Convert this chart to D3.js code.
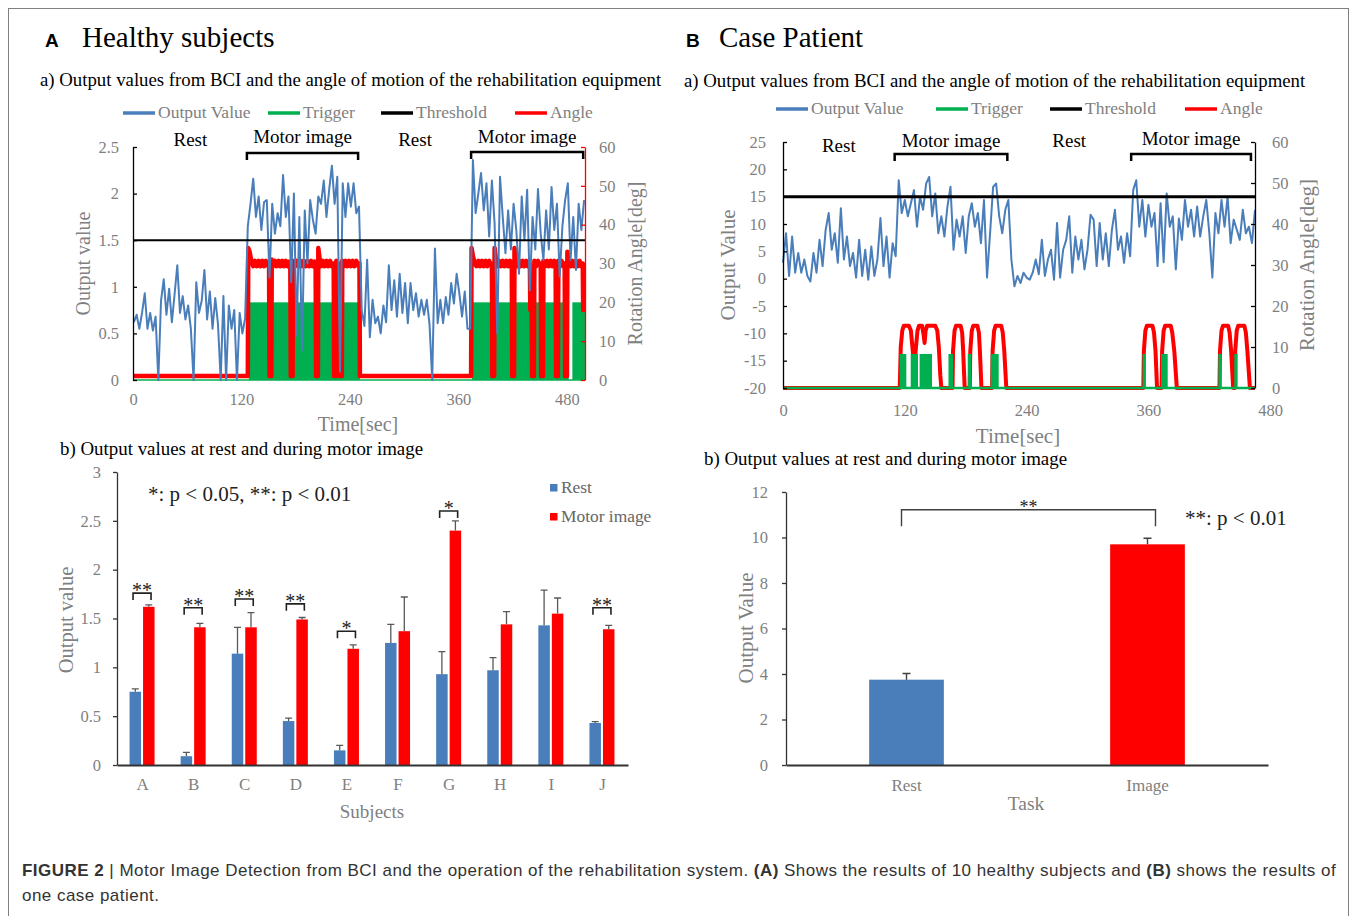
<!DOCTYPE html>
<html>
<head>
<meta charset="utf-8">
<script src="https://cdn.jsdelivr.net/npm/d3@7"></script>
<style>
  body { margin: 0; background: #fff; }
</style>
</head>
<body>
<svg id="fig" width="1357" height="916"></svg>
<script>
// ---- A a) healthy subject trace (sampled every 3 s, first sample at t = 1 s)
const startA = 1, stepA = 3;
const outputA = [
  // rest
  0.62,0.70,0.55,0.72,0.93,0.55,0.72,0.53,0.68,0.00,0.85,1.08,0.70,0.98,0.62,0.92,1.23,0.72,0.90,0.65,0.80,
  0.55,0.00,1.05,0.72,0.85,1.18,0.65,0.95,0.55,0.88,0.60,0.00,0.90,0.00,0.80,0.55,0.75,0.00,0.72,0.50,0.66,
  // motor image
  1.65,1.89,2.16,1.75,1.97,1.61,1.91,1.93,1.10,1.89,1.57,1.79,1.65,2.20,1.75,1.97,1.05,2.00,0.47,1.75,0.32,
  1.82,1.25,1.93,1.72,1.57,1.97,1.89,2.14,1.75,2.04,2.30,1.89,2.18,0.09,2.11,1.75,2.11,1.86,2.11,1.79,1.86,
  // rest
  0.75,0.58,1.29,0.46,0.86,0.61,0.68,0.50,0.80,0.62,1.23,0.75,1.07,0.68,1.14,0.72,1.04,0.61,1.04,0.75,
  0.93,0.68,0.86,0.70,0.86,0.60,0.00,1.41,0.61,0.86,0.61,0.89,0.70,1.04,0.82,1.14,0.93,0.68,0.95,0.55,
  // motor image
  0.55,2.36,1.79,2.00,2.22,1.82,2.11,1.54,2.14,1.68,0.50,2.18,1.75,1.36,1.82,1.40,1.89,1.61,1.14,1.97,1.50,
  2.04,0.96,1.75,1.40,2.05,1.57,1.29,1.82,1.40,2.07,1.61,1.89,1.11,1.65,1.93,2.11,1.29,1.75,1.18,1.89,1.61,1.93
];
// [time s, angle deg]
const angleA = [
  [0,1],[127,1],[127.5,34],[129,33],[131,30.5],[133,29.3],[135,30.7],[137,29.3],[139,30.7],[141,29.3],[143,30.7],
  [145,29.3],[147,30.7],[149,29.5],[150.5,30],[151,1],[153,1],[153.5,31],[155,29.3],[157,30.7],[159,29.3],[161,30.7],
  [163,29.3],[165,30.7],[167,29.3],[169,30.7],[171,29.3],[173,30.5],[174,30],[174.5,1],[176.5,1],[177,30.7],[179,29.3],
  [181,30.7],[183,29.3],[185,30.7],[187,29.3],[189,30.7],[191,29.3],[193,30.7],[195,29.3],[197,30.7],[199,29.3],
  [201,30.5],[202,30],[202.5,1],[204.5,1],[205,34],[206.5,31],[208,29.3],[210,30.7],[212,29.3],[214,30.7],[216,29.3],
  [218,30.7],[220,29.3],[222,30],[222.5,1],[224.5,1],[225,30.7],[227,29.3],[228.5,30],[229,1],[231,1],[231.5,30.7],
  [233,29.3],[235,30.7],[237,29.3],[239,30.7],[241,29.3],[243,30.7],[245,29.3],[247,30.7],[249,29.5],[250.5,30],
  [251,1],[374,1],[374.5,34],[376,32],[378,30],[380,29.3],[382,30.7],[384,29.3],[386,30.7],[388,29.3],[390,30.7],
  [392,29.3],[394,30.7],[396,29.5],[397,30],[397.5,1],[399.5,1],[400,34],[401.5,31],[403,29.3],[405,30.7],[407,29.3],
  [409,30.7],[411,29.3],[413,30.7],[415,29.3],[417,30.7],[419,30],[419.5,1],[421.5,1],[422,34],[423.5,31],[425,29.3],
  [427,30.7],[429,29.3],[431,30.7],[433,29.3],[435,30.7],[437,29.3],[439,30],[439.5,18],[441,18],[441.5,1],[443.5,1],
  [444,30.7],[446,29.3],[448,30.7],[450,29.5],[451,30],[451.5,1],[453.5,1],[454,30.7],[456,29.3],[458,30.7],[460,29.3],
  [462,30.7],[464,29.3],[466,30.7],[467.5,30],[468,1],[470,1],[470.5,30.7],[472,29.3],[474,30.7],[476,29.3],
  [477.5,30],[478,1],[480,1],[480.5,33],[482,31],[484,29.3],[486,30.7],[488,29.3],[490,30.7],[492,29.3],[494,30.7],
  [496,29.3],[497.5,30],[498,18],[500,18]
];
const triggerA = [[128, 251], [375, 482], [486, 500]]; // trigger on (20 deg)
const triggerLevelA = 20;
const thresholdA = 1.5;
const periodsA = [
  { name: "Rest", from: 0, to: 127 },
  { name: "Motor image", from: 126, to: 249 },
  { name: "Rest", from: 250, to: 374 },
  { name: "Motor image", from: 374, to: 498 }
];

// ---- B a) case patient trace (sampled every 3 s from t = 0)
const startB = 0, stepB = 3;
const outputB = [
  // rest
  2.9,8.3,0.5,7.7,1.1,4.7,1.1,3.5,0.5,-0.5,4.7,1.1,7.1,2.3,8.9,12.0,5.3,8.3,2.9,12.9,
  3.5,7.7,2.3,4.7,0.2,7.1,0.5,5.3,-0.2,5.9,0.5,3.5,11.1,2.3,7.7,0.2,6.5,4.1,
  // motor image
  18.0,12.0,14.4,11.4,13.8,16.2,9.5,15.0,12.6,17.4,18.6,11.4,15.6,8.3,11.4,7.7,13.2,16.8,5.3,
  10.8,7.7,11.4,4.7,11.4,13.8,9.5,12.0,6.5,14.4,0.2,8.3,16.8,17.4,11.4,8.3,12.6,14.4,
  // rest
  3.5,-1.4,0.5,-0.8,1.1,0.2,-0.2,1.1,3.5,0.8,7.1,0.5,3.5,5.3,-0.2,10.2,0.2,5.3,7.1,11.4,
  1.1,7.7,3.5,7.1,1.7,5.3,11.7,10.8,2.3,10.2,3.5,8.3,2.3,8.9,12.6,5.3,7.7,2.9,8.3,4.1,
  // motor image
  16.2,18.0,9.5,14.4,7.7,13.5,9.5,12.0,2.3,13.8,3.0,15.6,9.5,11.4,1.7,11.0,7.1,14.4,9.5,12.6,7.7,
  13.2,7.7,11.4,14.4,8.3,0.2,12.0,8.3,14.4,9.5,15.0,6.5,10.8,9.0,7.1,12.6,8.3,9.5,6.5,12.6
];
const angleB = [
  [0,0],[115,0],[116,10],[117.5,14],[119,15.2],[124,15.2],[126,14],[127.5,10],[128.5,7],[130,7],[131,10],
  [132.5,14],[134,15.2],[137,15.2],[138.5,13],[139.5,11],[140.5,14],[142,15.2],[150,15.2],[152,14],[153.5,10],
  [155,3],[156,0],[167,0],[167.5,9],[169,14],[170.5,15.2],[175,15.2],[176.5,13.5],[177.5,9],[179,0],
  [184,0],[184.5,9],[186,14],[187.5,15.2],[191.5,15.2],[193,13.5],[194,9],[195.5,0],
  [206,0],[206.5,9],[208,14],[209.5,15.2],[215,15.2],[216.5,13.5],[218,9],[220,0],
  [355,0],[355.5,9],[357,14],[358.5,15.2],[364,15.2],[365.5,13.5],[367,9],[368.5,0],
  [373,0],[373.5,9],[375,14],[376.5,15.2],[382,15.2],[383.5,13.5],[385.5,9],[388,0],
  [430,0],[430.5,9],[432,14],[433.5,15.2],[438.5,15.2],[440,13.5],[441.5,9],[443.5,0],
  [445,0],[445.5,9],[447,14],[448.5,15.2],[454.5,15.2],[456,13.5],[457.5,9],[460,0],[465,0]
];
const triggerB = [[115,121.5],[125.8,133],[134.6,146.8],[163,167.5],[182,185.5],[204.6,212.5],
                  [354.3,357.5],[372.4,379],[428.9,432],[444.6,447.9]];
const triggerLevelB = 8.3;
const thresholdB = 15;
const periodsB = [
  { name: "Rest", from: 0, to: 110 },
  { name: "Motor image", from: 110, to: 221 },
  { name: "Rest", from: 221, to: 343 },
  { name: "Motor image", from: 343, to: 461 }
];

// ---- A b) output values per subject
const subjects = ["A","B","C","D","E","F","G","H","I","J"];
const restMean  = [0.75,0.09,1.14,0.45,0.15,1.25,0.93,0.97,1.43,0.43];
const restErr   = [0.03,0.04,0.27,0.03,0.05,0.19,0.23,0.13,0.36,0.015];
const motorMean = [1.62,1.41,1.41,1.49,1.19,1.37,2.40,1.44,1.55,1.39];
const motorErr  = [0.02,0.04,0.15,0.02,0.04,0.35,0.10,0.13,0.16,0.04];
const signifA = [
  { s: "A", mark: "**", level: 1.76 }, { s: "B", mark: "**", level: 1.61 },
  { s: "C", mark: "**", level: 1.70 }, { s: "D", mark: "**", level: 1.65 },
  { s: "E", mark: "*",  level: 1.37 }, { s: "G", mark: "*",  level: 2.60 },
  { s: "J", mark: "**", level: 1.61 }
];

// ---- B b) output values per task
const tasks = ["Rest", "Image"];
const taskMean = [3.75, 9.70];
const taskErr  = [0.27, 0.27];
const signifB = { mark: "**", level: 11.22, legEnd: 10.5 };

const svg = d3.select("#fig");
const SERIF = "'Liberation Serif','Times New Roman',serif";
const SANS = "'Liberation Sans',Arial,sans-serif";
const GRAY = "#808080";
const BLUE = "#4a7ebb", GREEN = "#00b050", RED = "#ff0000";

function label(x, y, s, o = {}) {
  return svg.append("text")
    .attr("x", x).attr("y", y)
    .attr("font-family", o.family || SERIF)
    .attr("font-size", o.size || 16)
    .attr("font-weight", o.weight || null)
    .attr("fill", o.fill || "#000")
    .attr("text-anchor", o.anchor || "start")
    .attr("transform", o.rotate ? `rotate(${o.rotate},${x},${y})` : null)
    .text(s);
}

function styleAxis(g, stroke, size) {
  g.attr("font-family", SERIF).attr("font-size", size || 16.5);
  g.select(".domain").attr("stroke", stroke).attr("stroke-width", 1.3);
  g.selectAll(".tick line").attr("stroke", stroke).attr("stroke-width", 1.3);
  g.selectAll(".tick text").attr("fill", GRAY);
}

// frame round the whole figure
svg.append("rect").attr("x", 8.5).attr("y", 8.5).attr("width", 1340).attr("height", 1000)
  .attr("fill", "none").attr("stroke", "#808080").attr("stroke-width", 1);

function drawTrace(p) {
  const x = d3.scaleLinear().domain(p.xDomain).range(p.xRange);
  const y = d3.scaleLinear().domain(p.yDomain).range(p.yRange);
  const yr = d3.scaleLinear().domain([0, 60]).range(p.yRange);
  const g = svg.append("g");

  const trig = () => {
    g.append("g").selectAll("rect").data(p.trigger).join("rect")
      .attr("x", d => x(d[0])).attr("width", d => x(d[1]) - x(d[0]))
      .attr("y", yr(p.triggerLevel)).attr("height", yr(0) - yr(p.triggerLevel))
      .attr("fill", GREEN);
  };
  if (!p.triggerOnTop) trig();

  g.append("path").datum(p.angle)
    .attr("d", d3.line().x(d => x(d[0])).y(d => yr(d[1])))
    .attr("fill", "none").attr("stroke", RED).attr("stroke-width", p.angleWidth)
    .attr("stroke-linejoin", "round");

  if (p.triggerOnTop) trig();
  g.append("line")
    .attr("x1", p.xRange[0]).attr("x2", p.xRange[1])
    .attr("y1", yr(0)).attr("y2", yr(0))
    .attr("stroke", GREEN).attr("stroke-width", p.baseWidth);

  g.append("path").datum(p.output)
    .attr("d", d3.line().x((d, i) => x(p.start + i * p.step)).y(d => y(d)))
    .attr("fill", "none").attr("stroke", BLUE).attr("stroke-width", 2)
    .attr("stroke-linejoin", "round");

  g.append("line")
    .attr("x1", p.xRange[0]).attr("x2", p.xRange[1])
    .attr("y1", y(p.threshold)).attr("y2", y(p.threshold))
    .attr("stroke", "#000").attr("stroke-width", p.thresholdWidth);

  // axes
  const left = g.append("g").attr("transform", `translate(${p.xRange[0]},0)`)
    .call(d3.axisLeft(y).tickValues(p.yTicks).tickFormat(d => String(d))
      .tickSizeInner(-4).tickSizeOuter(0).tickPadding(p.tickPad));
  styleAxis(left, "#000");
  const right = g.append("g").attr("transform", `translate(${p.xRange[1]},0)`)
    .call(d3.axisRight(yr).tickValues([0, 10, 20, 30, 40, 50, 60])
      .tickSizeInner(-4).tickSizeOuter(0).tickPadding(p.tickPad));
  styleAxis(right, p.rightAxisColor);
  const bottom = g.append("g").attr("transform", `translate(0,${p.yRange[0]})`)
    .call(d3.axisBottom(x).tickValues([0, 120, 240, 360, 480]).tickSize(0).tickPadding(p.xPad));
  styleAxis(bottom, "#000");
  bottom.select(".domain").remove();

  // rest / motor image periods
  p.periods.forEach((d, i) => {
    label(x((d.from + d.to) / 2), p.periodY[i], d.name, { size: 19, anchor: "middle" });
  });
  p.periods.filter(d => d.name !== "Rest").forEach((d, i) => {
    const by = p.bracketY[i];
    g.append("path")
      .attr("d", `M${x(d.from)},${by + 7}V${by}H${x(d.to)}V${by + 7}`)
      .attr("fill", "none").attr("stroke", "#000").attr("stroke-width", 2.5);
  });

  // legend
  const items = [["Output Value", BLUE], ["Trigger", GREEN], ["Threshold", "#000"], ["Angle", RED]];
  items.forEach((it, i) => {
    const lx = p.legendX[i];
    g.append("line").attr("x1", lx).attr("x2", lx + 32)
      .attr("y1", p.legendY).attr("y2", p.legendY)
      .attr("stroke", it[1]).attr("stroke-width", 3.5);
    label(lx + 35, p.legendY + 5, it[0], { size: 17.5, fill: GRAY });
  });

  const midY = (p.yRange[0] + p.yRange[1]) / 2;
  label(p.yLabelX, midY, p.yLabel, { size: p.labelSize, fill: GRAY, anchor: "middle", rotate: -90 });
  label(p.rLabelX, midY, "Rotation Angle[deg]", { size: p.labelSize, fill: GRAY, anchor: "middle", rotate: -90 });
  label(p.timeX, p.timeY, "Time[sec]", { size: p.labelSize, fill: GRAY, anchor: "middle" });
}

// ---- panel headers
label(45, 47, "A", { family: SANS, weight: "bold", size: 19 });
label(82, 47, "Healthy subjects", { size: 29 });
label(686, 47, "B", { family: SANS, weight: "bold", size: 19 });
label(719, 47, "Case Patient", { size: 29 });
label(40, 86, "a) Output values from BCI and the angle of motion of the rehabilitation equipment", { size: 18.8 });
label(684, 87, "a) Output values from BCI and the angle of motion of the rehabilitation equipment", { size: 18.8 });

drawTrace({
  xDomain: [0, 500], xRange: [133, 585],
  yDomain: [0, 2.5], yRange: [380, 147], yTicks: [0, 0.5, 1, 1.5, 2, 2.5],
  output: outputA, start: startA, step: stepA,
  angle: angleA, angleWidth: 4.5,
  trigger: triggerA, triggerLevel: triggerLevelA, triggerOnTop: false, baseWidth: 1.5,
  threshold: thresholdA, thresholdWidth: 2,
  rightAxisColor: RED, tickPad: 14, xPad: 13,
  periods: periodsA, periodY: [146, 143, 146, 143], bracketY: [153, 152],
  legendX: [123, 268, 381, 515], legendY: 113,
  labelSize: 20, yLabel: "Output value", yLabelX: 90, rLabelX: 642, timeX: 358, timeY: 431
});

drawTrace({
  xDomain: [0, 465], xRange: [783, 1255],
  yDomain: [-20, 25], yRange: [388, 142], yTicks: d3.range(-20, 26, 5),
  output: outputB, start: startB, step: stepB,
  angle: angleB, angleWidth: 4,
  trigger: triggerB, triggerLevel: triggerLevelB, triggerOnTop: true, baseWidth: 2.5,
  threshold: thresholdB, thresholdWidth: 3,
  rightAxisColor: "#000", tickPad: 17, xPad: 16,
  periods: periodsB, periodY: [152, 147, 147, 145], bracketY: [154, 154],
  legendX: [776, 936, 1050, 1185], legendY: 109,
  labelSize: 21, yLabel: "Output Value", yLabelX: 735, rLabelX: 1314, timeX: 1018, timeY: 443
});

// ---- A b) bar chart
label(60, 455, "b) Output values at rest and during motor image", { size: 18.9 });
{
  const x = d3.scaleBand().domain(subjects).range([117, 628]);
  const y = d3.scaleLinear().domain([0, 3]).range([765, 472]);
  const g = svg.append("g");
  const cx = s => x(s) + x.bandwidth() / 2;
  const rows = subjects.map((s, i) => ({ s, rest: restMean[i], re: restErr[i], motor: motorMean[i], me: motorErr[i] }));

  g.selectAll("rect.rest").data(rows).join("rect")
    .attr("x", d => cx(d.s) - 13).attr("width", 11.5)
    .attr("y", d => y(d.rest)).attr("height", d => y(0) - y(d.rest)).attr("fill", BLUE);
  g.selectAll("rect.motor").data(rows).join("rect")
    .attr("x", d => cx(d.s) + 0.5).attr("width", 11.5)
    .attr("y", d => y(d.motor)).attr("height", d => y(0) - y(d.motor)).attr("fill", RED);

  const err = (bx, v, e) => `M${bx},${y(v)}V${y(v + e)}M${bx - 3.5},${y(v + e)}H${bx + 3.5}`;
  g.selectAll("path.err").data(rows).join("path")
    .attr("d", d => err(cx(d.s) - 7.25, d.rest, d.re) + err(cx(d.s) + 6.25, d.motor, d.me))
    .attr("fill", "none").attr("stroke", "#595959").attr("stroke-width", 1.3);

  signifA.forEach(d => {
    const x0 = cx(d.s) - 9.5, x1 = cx(d.s) + 8.5, by = y(d.level);
    g.append("path").attr("d", `M${x0},${by + 7}V${by}H${x1}V${by + 7}`)
      .attr("fill", "none").attr("stroke", "#222").attr("stroke-width", 1.6);
    label((x0 + x1) / 2, by + 4, d.mark, { size: 20, anchor: "middle", fill: "#222" });
  });

  const ax = g.append("g").attr("transform", "translate(117,0)")
    .call(d3.axisLeft(y).tickValues([0, 0.5, 1, 1.5, 2, 2.5, 3]).tickFormat(d => String(d))
      .tickSizeInner(4).tickSizeOuter(0).tickPadding(12));
  styleAxis(ax, "#333");
  const bx = g.append("g").attr("transform", "translate(0,765)")
    .call(d3.axisBottom(x).tickSize(0).tickPadding(13));
  styleAxis(bx, "#333", 17);
  bx.select(".domain").attr("stroke-width", 1.8);

  label(148, 501, "*: p < 0.05, **: p < 0.01", { size: 21, fill: "#222" });
  [["Rest", BLUE, 488], ["Motor image", RED, 517]].forEach(l => {
    g.append("rect").attr("x", 550).attr("y", l[2] - 4).attr("width", 7.5).attr("height", 7.5).attr("fill", l[1]);
    label(561, l[2] + 5, l[0], { size: 17.4, fill: "#666" });
  });
  label(73, 620, "Output value", { size: 20.5, fill: GRAY, anchor: "middle", rotate: -90 });
  label(372, 818, "Subjects", { size: 19, fill: GRAY, anchor: "middle" });
}

// ---- B b) bar chart
label(704, 465, "b) Output values at rest and during motor image", { size: 18.9 });
{
  const x = d3.scaleBand().domain(tasks).range([786, 1268]).paddingInner(0.69).paddingOuter(0.345);
  const y = d3.scaleLinear().domain([0, 12]).range([765, 492]);
  const g = svg.append("g");
  const rows = tasks.map((t, i) => ({ t, v: taskMean[i], e: taskErr[i] }));
  const cx = t => x(t) + x.bandwidth() / 2;

  g.selectAll("rect").data(rows).join("rect")
    .attr("x", d => x(d.t)).attr("width", x.bandwidth())
    .attr("y", d => y(d.v)).attr("height", d => y(0) - y(d.v))
    .attr("fill", (d, i) => i === 0 ? BLUE : RED);
  g.selectAll("path.err").data(rows).join("path")
    .attr("d", d => `M${cx(d.t)},${y(d.v)}V${y(d.v + d.e)}M${cx(d.t) - 4},${y(d.v + d.e)}H${cx(d.t) + 4}`)
    .attr("fill", "none").attr("stroke", "#404040").attr("stroke-width", 1.4);

  const x0 = cx("Rest") - 5, x1 = cx("Image") + 8;
  const by = y(signifB.level), be = y(signifB.legEnd);
  g.append("path").attr("d", `M${x0},${be}V${by}H${x1}V${be}`)
    .attr("fill", "none").attr("stroke", "#404040").attr("stroke-width", 1.4);
  label((x0 + x1) / 2, by + 3, signifB.mark, { size: 18, anchor: "middle", fill: "#222" });
  label(1185, 525, "**: p < 0.01", { size: 21, fill: "#222" });

  const ax = g.append("g").attr("transform", "translate(786,0)")
    .call(d3.axisLeft(y).tickValues(d3.range(0, 13, 2)).tickSizeInner(4).tickSizeOuter(0).tickPadding(14));
  styleAxis(ax, "#333");
  const bx = g.append("g").attr("transform", "translate(0,765)")
    .call(d3.axisBottom(x).tickSize(0).tickPadding(14));
  styleAxis(bx, "#333", 17);
  bx.select(".domain").attr("stroke-width", 1.8);

  label(753, 628, "Output Value", { size: 21, fill: GRAY, anchor: "middle", rotate: -90 });
  label(1026, 810, "Task", { size: 19.5, fill: GRAY, anchor: "middle" });
}

// ---- caption
{
  const cap = svg.append("text").attr("x", 22).attr("y", 876)
    .attr("font-family", SANS).attr("font-size", 17).attr("letter-spacing", 0.47).attr("fill", "#333");
  [["FIGURE 2", true], [" | Motor Image Detection from BCI and the operation of the rehabilitation system. ", false],
   ["(A)", true], [" Shows the results of 10 healthy subjects and ", false], ["(B)", true],
   [" shows the results of", false]].forEach(t => {
    cap.append("tspan").attr("font-weight", t[1] ? "bold" : null).text(t[0]);
  });
  label(22, 901, "one case patient.", { family: SANS, size: 17, fill: "#333" }).attr("letter-spacing", 0.47);
}
</script>
</body>
</html>
